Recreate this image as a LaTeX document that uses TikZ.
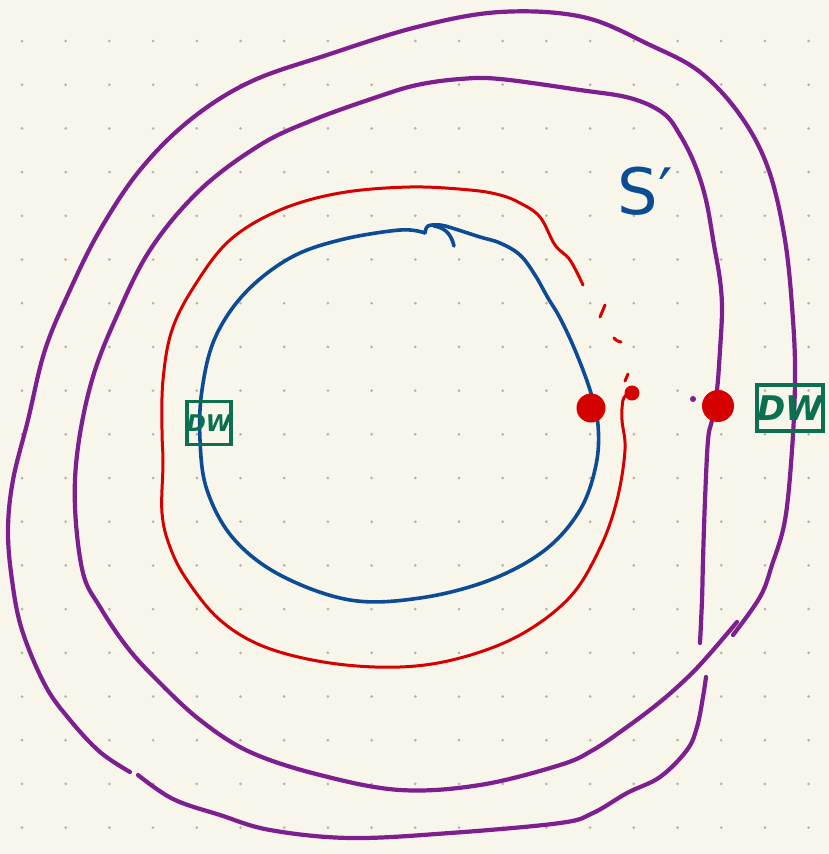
\documentclass[tikz,border=0pt]{standalone}
\usepackage{fontspec}
\setsansfont{DejaVu Sans}
\definecolor{bgc}{HTML}{F8F5EA}
\definecolor{dotc}{HTML}{B5B3AC}
\definecolor{purp}{HTML}{7E1F8F}
\definecolor{blu}{HTML}{0B4C95}
\definecolor{redc}{HTML}{D50000}
\definecolor{grn}{HTML}{0A7050}
\tikzset{
  purpline/.style={draw=purp, line width=4.2pt, line cap=round, line join=round},
  blueline/.style={draw=blu, line width=3.6pt, line cap=round, line join=round},
  redline/.style={draw=redc, line width=3pt, line cap=round, line join=round},
  reddot/.style={circle, fill=redc, inner sep=0pt},
  dwbox/.style={draw=grn, line width=3.6pt, text=grn, inner sep=0pt},
}
\begin{document}
\begin{tikzpicture}[x=1pt,y=-1pt]
\fill[bgc] (0,0) rectangle (829,854);
\useasboundingbox (0,0) rectangle (829,854);
% dotted grid
\foreach \i in {0,...,18}{
  \foreach \j in {0,...,18}{
    \fill[dotc] (22+\i*43.7,41+\j*43.7) circle (1.5);
  }
}
% purple: outer bottom segment
\draw[purpline] plot[smooth, tension=0.6] coordinates {(138,775) (173,799) (220,815) (270,830) (350,838) (450,833) (560,823) (593,813) (627,793) (660,777) (687,750) (697,727) (703,697) (706,677)};
% purple: inner loop
\draw[purpline] plot[smooth, tension=0.6] coordinates {(700,643) (702,600) (703,560) (705,500) (708,440) (712,420) (717,390) (720,350) (722,310) (720,280) (714,245) (706,200) (695,165) (680,135) (663,113) (630,98) (580,90) (500,79) (460,79) (417,85) (377,97) (313,120) (260,145) (200,190) (150,250) (115,320) (92,380) (78,447) (75,507) (83,573) (100,607) (127,647) (157,680) (200,720) (250,752) (320,775) (400,790) (480,785) (560,765) (593,750) (627,727) (660,702) (687,678) (707,657) (737,622)};
% purple: outer loop
\draw[purpline] plot[smooth, tension=0.6] coordinates {(733,635) (760,597) (772,565) (785,520) (792,450) (795,380) (793,320) (785,240) (768,168) (740,115) (700,72) (650,45) (583,17) (500,12) (417,27) (327,55) (250,82) (190,120) (140,170) (100,230) (70,290) (45,350) (28,420) (13,480) (8,530) (12,580) (22,630) (45,685) (70,720) (100,752) (130,772)};
\node[circle, fill=purp, inner sep=0pt, minimum size=6pt] (pd) at (693,399) {};
% blue circle
\draw[blueline] plot[smooth, tension=0.6] coordinates {(425,233) (400,230) (340,240) (290,258) (245,293) (215,338) (202,390) (200,440) (207,490) (233,538) (280,575) (350,600) (420,598) (490,580) (545,550) (580,510) (596,465) (598,425) (590,390) (575,350) (560,318) (548,298) (535,275) (520,255) (500,243) (480,237) (452,228) (440,225) (428,226) (425,233)};
\draw[blueline] (434,226) .. controls (448,228) and (452,238) .. (454,246);
% red curve
\draw[redline] plot[smooth, tension=0.6] coordinates {(583,285) (570,260) (555,245) (540,217) (520,203) (500,195) (470,190) (410,187) (340,193) (280,210) (230,240) (195,285) (172,330) (163,380) (162,430) (163,463) (162,513) (170,547) (187,580) (220,620) (265,647) (330,663) (400,667) (460,658) (520,635) (570,597) (600,548) (617,500) (625,450) (622,420) (623,400) (628,394)};
\draw[redline] (605,305) -- (600,317);
\draw[redline] (614,338) .. controls (617,341) .. (621,342);
\draw[redline] (628,374) -- (625,381);
\node[reddot, minimum size=15pt] (r0) at (632,393) {};
\node[reddot, minimum size=29pt] (r1) at (591,408) {};
\node[reddot, minimum size=32pt] (r2) at (718,406) {};
% green boxes
\node[dwbox, minimum width=44pt, minimum height=43pt, font=\sffamily\itshape\bfseries\fontsize{23}{23}\selectfont] (dwl) at (209,423) {DW};
\node[dwbox, minimum width=66pt, minimum height=46pt, font=\sffamily\itshape\bfseries\fontsize{34}{34}\selectfont] (dwr) at (790,408) {DW};
% S'
\node[text=blu, font=\sffamily\fontsize{64}{64}\selectfont, anchor=base] (s) at (645,214) {S′};
\end{tikzpicture}
\end{document}
